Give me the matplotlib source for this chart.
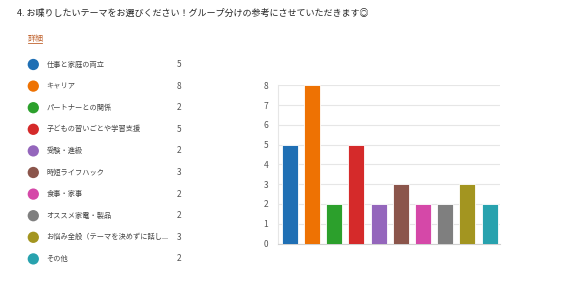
import matplotlib
matplotlib.use("Agg")
import matplotlib.pyplot as plt

plt.rcParams['font.family'] = ['Noto Sans CJK JP', 'DejaVu Sans']

# data
title = "4. お喋りしたいテーマをお選びください！グループ分けの参考にさせていただきます◎"
categories = ["仕事と家庭の両立", "キャリア", "パートナーとの関係", "子どもの習いごとや学習支援",
              "受験・進級", "時短ライフハック", "食事・家事", "オススメ家電・製品",
              "お悩み全般（テーマを決めずに話し...", "その他"]
counts = [5, 8, 2, 5, 2, 3, 2, 2, 3, 2]
colors = ["#1f6fb4", "#ee7203", "#2ca02c", "#d52a2a", "#9466bc",
          "#8b554b", "#d548a8", "#7f7f7f", "#a39520", "#28a2ae"]
yticks = list(range(0, 9))

W, H = 567, 285
fig = plt.figure(figsize=(W / 100, H / 100), dpi=100)

# overlay in pixel coords for the header and the legend list
ov = fig.add_axes([0, 0, 1, 1])
ov.set_xlim(0, W)
ov.set_ylim(H, 0)
ov.axis("off")

ov.text(17, 13, title, fontsize=6.5, color="#252525", va="center", ha="left")
ov.text(28, 38, "詳細", fontsize=5.8, color="#c0622d", va="center", ha="left")
ov.plot([28, 42], [43, 43], color="#c0622d", lw=0.6)

row_y = [64.5 + i * 21.6 for i in range(len(categories))]
ov.scatter([33.3] * len(categories), row_y, s=66, c=colors, linewidths=0)
for y, lab, n in zip(row_y, categories, counts):
    ov.text(46.5, y, lab, fontsize=5.2, color="#444444", va="center", ha="left")
    ov.text(179, y, str(n), fontsize=6, color="#555555", va="center", ha="center")

# bar chart
left, right, top, bottom = 278, 500, 85.3, 243.5
ax = fig.add_axes([left / W, 1 - bottom / H, (right - left) / W, (bottom - top) / H])
x = range(len(counts))
ax.bar(x, counts, width=0.72, color=colors, edgecolor="white", linewidth=0.6, zorder=3)
ax.set_xlim(-0.53, 9.47)
ax.set_ylim(0, 8)
ax.set_yticks(yticks)
ax.set_xticks([])
ax.grid(axis="y", color="#e6e6e6", lw=0.8, zorder=0)
for s in ["top", "right"]:
    ax.spines[s].set_visible(False)
ax.spines["left"].set_color("#e6e6e6")
ax.spines["bottom"].set_color("#d0d0d0")
ax.tick_params(axis="y", length=0, pad=7, labelsize=6, labelcolor="#555555")

fig.savefig("out.png", dpi=100)
